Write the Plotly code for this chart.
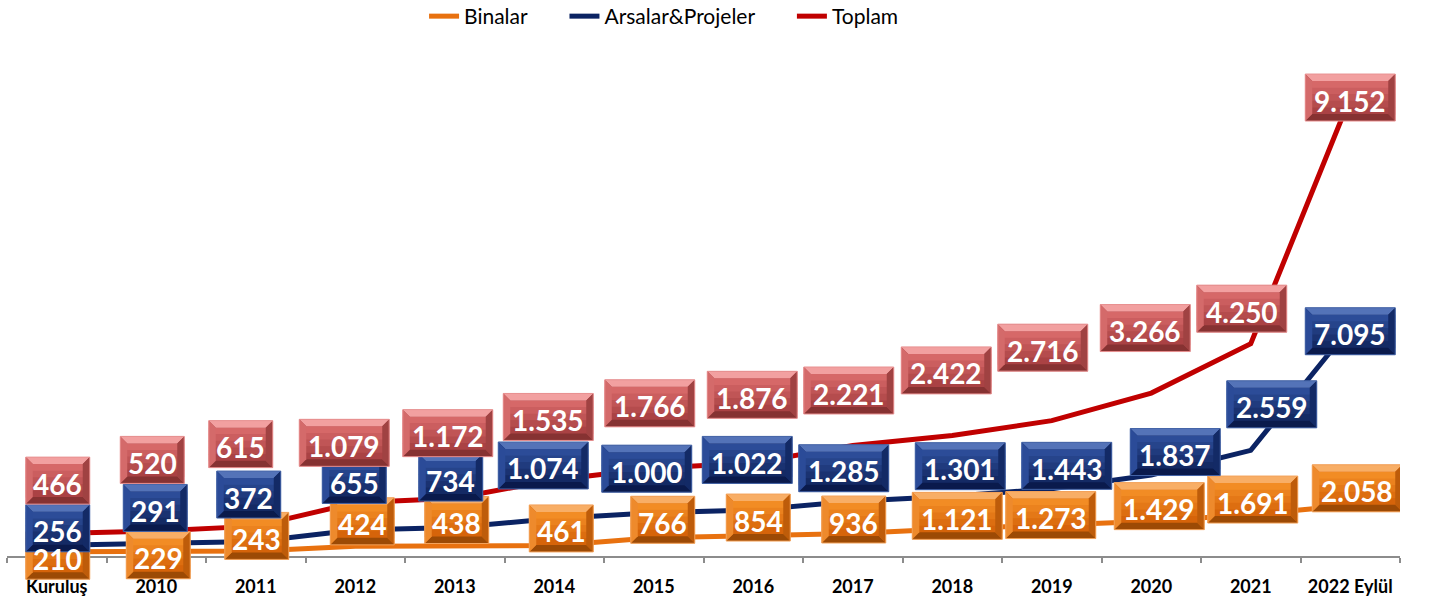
import numpy as np
import plotly.graph_objects as go

categories = ["Kuruluş", "2010", "2011", "2012", "2013", "2014", "2015", "2016",
              "2017", "2018", "2019", "2020", "2021", "2022 Eylül"]
binalar = [210, 229, 243, 424, 438, 461, 766, 854, 936, 1121, 1273, 1429, 1691, 2058]
arsalar = [256, 291, 372, 655, 734, 1074, 1000, 1022, 1285, 1301, 1443, 1837, 2559, 7095]
toplam = [466, 520, 615, 1079, 1172, 1535, 1766, 1876, 2221, 2422, 2716, 3266, 4250, 9152]

# label box offsets from the (stacked) point, in pixels: (dx, dy upward)
off_b = [(1, -4), (2, -4), (1, 15), (7, 25), (2, 26), (7, 17), (9, 18), (5, 18), (1, 14),
         (5, 13), (-1, 10), (8, 15), (2, 15), (7, 17)]
off_a = [(1, 17), (-1, 36), (-7, 47), (-1, 50), (-4, 50), (-11, 53), (-7, 44), (-6, 50),
         (-9, 33), (8, 30), (15, 23), (24, 23), (21, 46), (0, -4)]
off_t = [(1, 53), (-4, 71), (-15, 82), (-11, 60), (-7, 65), (-6, 63), (-4, 65), (-1, 68),
         (-4, 55), (-6, 65), (-9, 73), (-6, 65), (-9, 35), (0, 0)]

colors = {"b": "#E8710F", "a": "#0B2363", "t": "#C00000"}
palettes = {
    "b": dict(ftop=(242, 140, 36), fbot=(214, 100, 10), top="#F8AE66", bottom="#9C4A05",
              left="#EE8A2C", right="#BE5C0A", edge="#F3A25A"),
    "a": dict(ftop=(44, 76, 152), fbot=(20, 42, 100), top="#5473B8", bottom="#0A1A4C",
              left="#2B4B98", right="#132A66", edge="#4565A8"),
    "t": dict(ftop=(214, 104, 104), fbot=(170, 66, 68), top="#F2A0A0", bottom="#863232",
              left="#D46A6A", right="#A04242", edge="#E89090"),
}

NBSP = "\u00a0" * 6

fig = go.Figure()
fig.add_trace(go.Scatter(x=categories, y=binalar, name="Binalar" + NBSP, mode="lines", stackgroup="s",
                         fill="none", line=dict(color=colors["b"], width=5)))
fig.add_trace(go.Scatter(x=categories, y=arsalar, name="Arsalar&Projeler" + NBSP, mode="lines", stackgroup="s",
                         fill="none", line=dict(color=colors["a"], width=5)))
fig.add_trace(go.Scatter(x=categories, y=toplam, name="Toplam", mode="lines", stackgroup="s",
                         fill="none", line=dict(color=colors["t"], width=5)))

cum_b = np.array(binalar)
cum_a = cum_b + np.array(arsalar)
cum_t = cum_a + np.array(toplam)


def fmt(v):
    return f"{v:,}".replace(",", ".")


def rgb(c):
    return "rgb(%d,%d,%d)" % tuple(int(round(x)) for x in c)


shapes = []
annotations = []
H = 47
BV = 7
NBANDS = 5


def add_label(i, yval, text, dx, dy, pal):
    w = 25 + 13 * len(text)
    L, R, T, B = dx - w / 2, dx + w / 2, dy + H / 2, dy - H / 2
    base = dict(type="path", xref="x", yref="y", xsizemode="pixel", ysizemode="pixel",
                xanchor=i, yanchor=float(yval), layer="above", line=dict(width=0))

    def p(pts):
        return "M " + " L ".join(f"{x:.2f},{y:.2f}" for x, y in pts) + " Z"

    shapes.append(dict(base, path=p([(L, B), (R, B), (R, T), (L, T)]), fillcolor=rgb(pal["fbot"])))
    inner_t, inner_b = T - BV, B + BV
    bh = (inner_t - inner_b) / NBANDS
    for k in range(NBANDS):
        f = k / (NBANDS - 1)
        c = [pal["ftop"][j] * (1 - f) + pal["fbot"][j] * f for j in range(3)]
        yt = inner_t - k * bh
        yb = yt - bh - 0.6
        shapes.append(dict(base, path=p([(L, yb), (R, yb), (R, yt), (L, yt)]), fillcolor=rgb(c)))
    shapes.append(dict(base, path=p([(L, T), (R, T), (R - BV, T - BV), (L + BV, T - BV)]), fillcolor=pal["top"]))
    shapes.append(dict(base, path=p([(L, B), (R, B), (R - BV, B + BV), (L + BV, B + BV)]), fillcolor=pal["bottom"]))
    shapes.append(dict(base, path=p([(L, T), (L + BV, T - BV), (L + BV, B + BV), (L, B)]), fillcolor=pal["left"]))
    shapes.append(dict(base, path=p([(R, T), (R - BV, T - BV), (R - BV, B + BV), (R, B)]), fillcolor=pal["right"]))
    shapes.append(dict(base, path=p([(L, B), (R, B), (R, T), (L, T)]), fillcolor="rgba(0,0,0,0)",
                       line=dict(width=1, color=pal["edge"])))
    annotations.append(dict(x=i, y=float(yval), xref="x", yref="y", text=text, showarrow=False,
                            xshift=dx, yshift=dy - 3, xanchor="center", yanchor="middle",
                            font=dict(family="Lato", size=28, color="white", weight="bold")))


for i in range(len(categories)):
    add_label(i, cum_b[i], fmt(binalar[i]), *off_b[i], palettes["b"])
for i in range(len(categories)):
    add_label(i, cum_a[i], fmt(arsalar[i]), *off_a[i], palettes["a"])
for i in range(len(categories)):
    add_label(i, cum_t[i], fmt(toplam[i]), *off_t[i], palettes["t"])

# geometry
W, HT = 1429, 599
MT, MB, ML, MR = 40, 0, 7, 29
plot_h = HT - MT - MB          # 559
axis_px_from_bottom = 42       # x-axis line sits 42px above the plot-area bottom
px_per_unit = 0.0251
y_min = -axis_px_from_bottom / px_per_unit
y_max = (plot_h - axis_px_from_bottom) / px_per_unit

fig.update_layout(
    width=W, height=HT,
    margin=dict(l=ML, r=MR, t=MT, b=MB, autoexpand=False),
    plot_bgcolor="white", paper_bgcolor="white",
    showlegend=True,
    legend=dict(orientation="h", x=0.2994, xanchor="left", y=1 + (MT + 4) / plot_h, yanchor="top",
                traceorder="normal", font=dict(family="Lato", size=21, color="black"),
                bgcolor="rgba(0,0,0,0)"),
    xaxis=dict(type="category", range=[-0.5, 13.5], anchor="free", position=axis_px_from_bottom / plot_h,
               showline=True, linecolor="#8C8C8C", linewidth=2,
               ticks="outside", tickson="boundaries", ticklen=5, tickcolor="#8C8C8C", tickwidth=2,
               showgrid=False, zeroline=False,
               tickfont=dict(family="Lato", size=18, color="black", weight="bold"),
               ticklabelstandoff=13),
    yaxis=dict(range=[y_min, y_max], showticklabels=False, showgrid=False, zeroline=False, showline=False,
               ticks=""),
    shapes=shapes,
    annotations=annotations,
)

fig.write_html("out.html", config={"displayModeBar": False},
               post_script="document.body.style.margin='0';")
